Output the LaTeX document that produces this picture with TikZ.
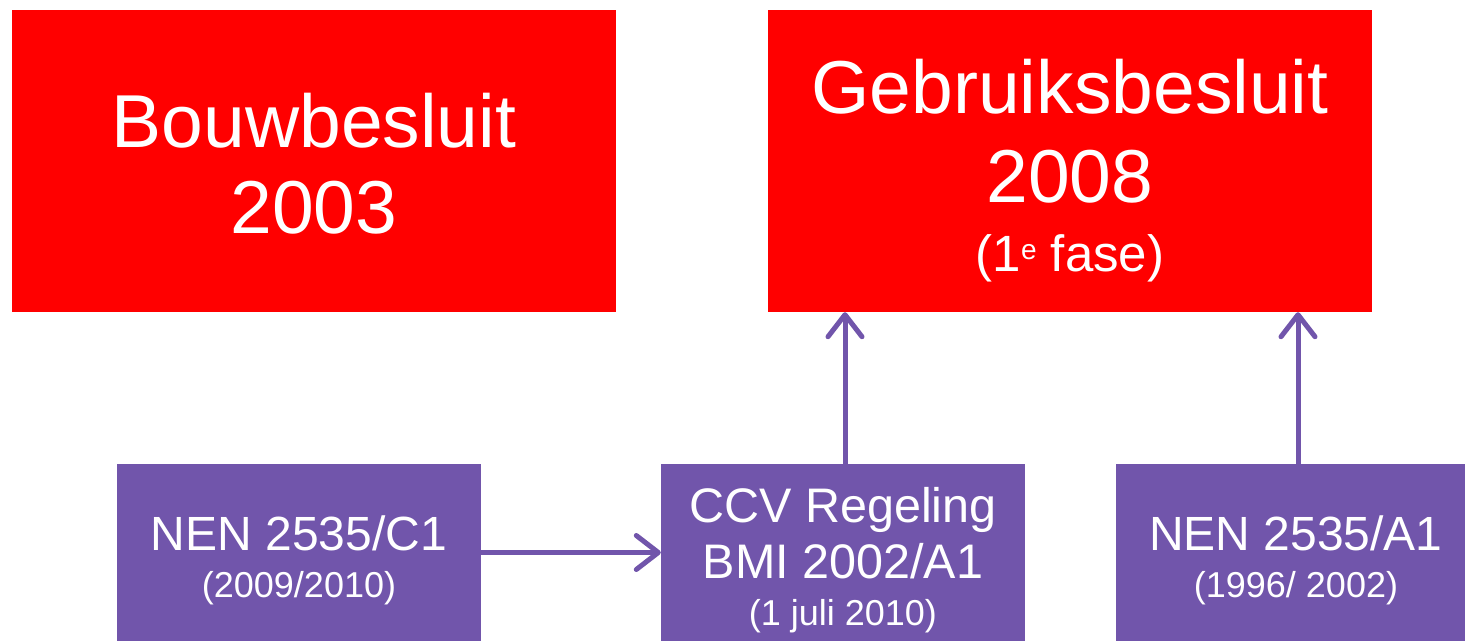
\documentclass[tikz,border=0pt]{standalone}
\usepackage{fontspec}
\setmainfont{Liberation Sans}
\usetikzlibrary{arrows.meta}
\definecolor{rb}{HTML}{FF0000}
\definecolor{pu}{HTML}{7155AB}
\tikzset{
  redbox/.style={fill=rb, draw=none, minimum width=604pt, minimum height=302pt, inner sep=0pt},
  purbox/.style={fill=pu, draw=none, minimum height=177pt, inner sep=0pt},
  txt/.style={text=white, inner sep=0pt, anchor=base},
  big/.style={txt, font=\fontsize{75}{88}\selectfont},
  med/.style={txt, font=\fontsize{47}{54}\selectfont},
  sml/.style={txt, font=\fontsize{36}{42}\selectfont},
  arr/.style={draw=pu, line width=5pt, -{Straight Barb[length=22pt,width=34pt,line cap=round,line join=round]}},
}
\begin{document}
\begin{tikzpicture}[x=1pt,y=-1pt]
\useasboundingbox (0,0) rectangle (1465,641);
\node[redbox] (bouw) at (314,161) {};
\node[redbox] (geb) at (1070,161) {};
\node[purbox, minimum width=364pt] (c1) at (299,552.5) {};
\node[purbox, minimum width=364pt] (ccv) at (843,552.5) {};
\node[purbox, minimum width=349pt] (a1) at (1290.5,552.5) {};

\node[big] (bouw1) at (314,147) {Bouwbesluit};
\node[big] (bouw2) at (314,233) {2003};
\node[big] (geb1) at (1070,113) {Gebruiksbesluit};
\node[big] (geb2) at (1070,202) {2008};
\node[txt, font=\fontsize{51}{58}\selectfont] (geb3) at (1070,271) {(1\raisebox{12pt}{\fontsize{28}{30}\selectfont e} fase)};

\node[med, font=\fontsize{48}{54}\selectfont] (c1a) at (299,550) {NEN 2535/C1};
\node[sml] (c1b) at (299,597) {(2009/2010)};
\node[med, font=\fontsize{48.5}{54}\selectfont] (ccva) at (843,522) {CCV Regeling};
\node[med, font=\fontsize{48.5}{54}\selectfont] (ccvb) at (843,578) {BMI 2002/A1};
\node[sml] (ccvc) at (843,625) {(1 juli 2010)};
\node[med, font=\fontsize{48}{54}\selectfont] (a1a) at (1296,550) {NEN 2535/A1};
\node[sml] (a1b) at (1296,597) {(1996/ 2002)};

\draw[arr] (c1.east) -- (ccv.west);
\draw[arr] ([xshift=2pt]ccv.north) -- ([xshift=2pt]ccv.north |- geb.south);
\draw[arr] ([xshift=7.5pt]a1.north) -- ([xshift=7.5pt]a1.north |- geb.south);
\end{tikzpicture}
\end{document}
